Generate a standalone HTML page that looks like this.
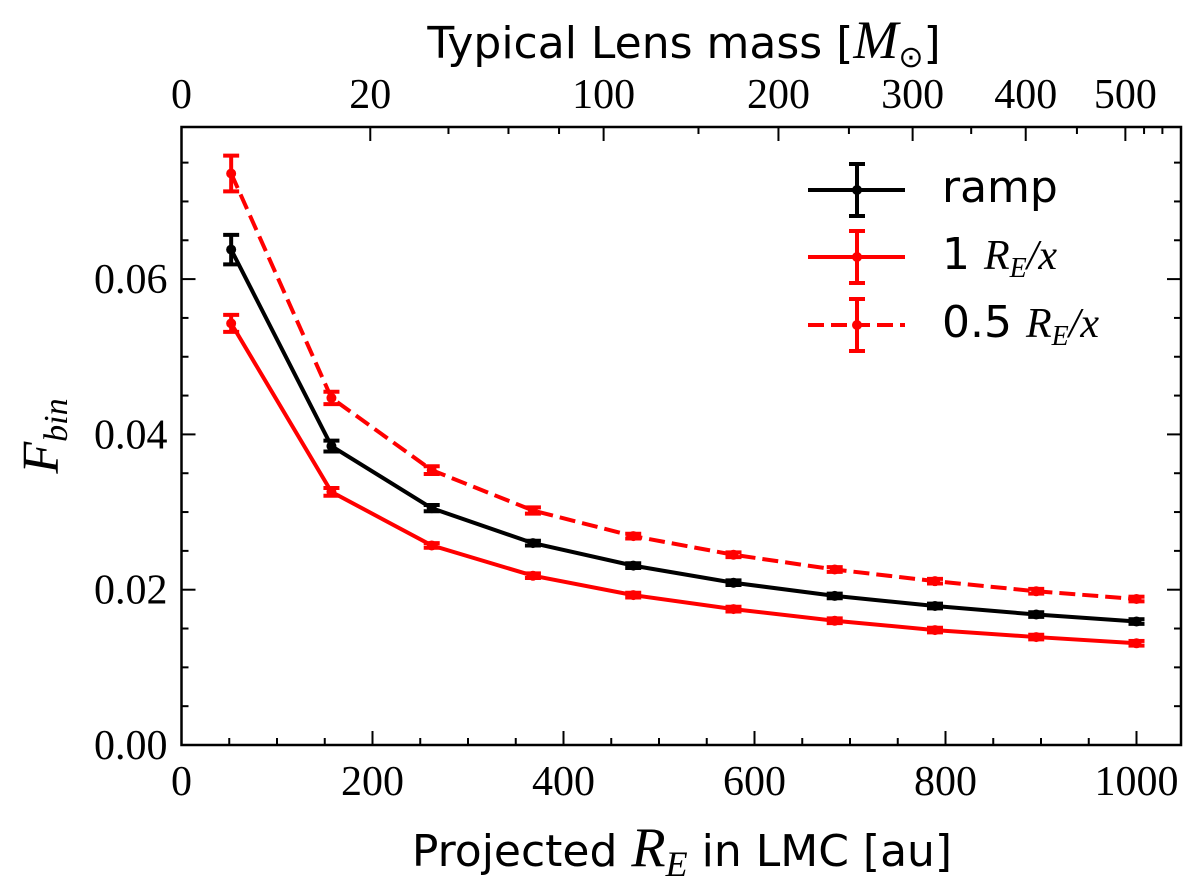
<!DOCTYPE html>
<html><head><meta charset="utf-8"><style>
html,body{margin:0;padding:0;background:#fff;}
svg text{fill:#000;}
.tk{font-family:"Liberation Serif",serif;font-size:42px;}
.lb{font-family:"DejaVu Sans","Liberation Sans",sans-serif;font-size:44px;}
.mi{font-family:"Liberation Serif",serif;font-style:italic;}
</style></head><body>
<svg id="chart" width="1200" height="890" xmlns="http://www.w3.org/2000/svg"></svg>
<script>
const xVals=[52,157,262,368,473,578,684,789,895,1000];
const rampVals=[0.0638,0.0385,0.0305,0.0260,0.0231,0.0209,0.0192,0.0179,0.0168,0.0159];
const rampErr=[0.0019,0.0007,0.0004,0.0003,0.0003,0.0003,0.0003,0.0003,0.0003,0.0003];
const oneVals=[0.0543,0.0326,0.0257,0.0218,0.0193,0.0175,0.0160,0.0148,0.0139,0.0131];
const oneErr=[0.0011,0.0005,0.0003,0.0003,0.0003,0.0003,0.0003,0.0003,0.0003,0.0003];
const halfVals=[0.0736,0.0447,0.0354,0.0302,0.0269,0.0245,0.0226,0.0211,0.0198,0.0188];
const halfErr=[0.0023,0.0008,0.0005,0.0004,0.0003,0.0003,0.0003,0.0003,0.0003,0.0003];
const xTicks=[0,200,400,600,800,1000];
const yTicks=[0,0.02,0.04,0.06];
const yTickLabels=["0.00","0.02","0.04","0.06"];
const topTicks=[0,20,100,200,300,400,500];
const topMinor=[40,60,80,150,250,350,450,520,540];

const L=181.5,R=1181,T=127,B=745;
const XMAX=(R-L)/0.955, YMAX=(B-T)/7765;
const sx=v=>L+v/XMAX*(R-L);
const sy=v=>B-v/YMAX*(B-T);
const sm=m=>sx(44.2*Math.sqrt(m));
const svg=document.getElementById('chart');
const NS='http://www.w3.org/2000/svg';
function mk(tag,attrs,parent){const e=document.createElementNS(NS,tag);for(const k in attrs)e.setAttribute(k,attrs[k]);(parent||svg).appendChild(e);return e;}

const tg=mk('g',{stroke:'#000','stroke-width':2});


for(let v=0;v<=XMAX;v+=50){const big=v%200===0;const x=sx(v);
 mk('line',{x1:x,x2:x,y1:B,y2:B-(big?14:7)},tg);}
for(let v=0;v<=YMAX+1e-9;v+=0.005){const big=Math.abs(v/0.02-Math.round(v/0.02))<1e-6;const y=sy(v);
 mk('line',{x1:L,x2:L+(big?14:7),y1:y,y2:y},tg);mk('line',{x1:R,x2:R-(big?14:7),y1:y,y2:y},tg);}
topTicks.forEach(m=>{const x=sm(m);mk('line',{x1:x,x2:x,y1:T,y2:T+14},tg);});
topMinor.forEach(m=>{const x=sm(m);mk('line',{x1:x,x2:x,y1:T,y2:T+7},tg);});

xTicks.forEach(v=>{const t=mk('text',{x:sx(v),y:B+50,'text-anchor':'middle',class:'tk'});t.textContent=v;
 });
yTicks.forEach((v,i)=>{const t=mk('text',{x:L-14,y:sy(v)+14,'text-anchor':'end',class:'tk'});t.textContent=yTickLabels[i];
 });
topTicks.forEach(m=>{const t=mk('text',{x:sm(m),y:108,'text-anchor':'middle',class:'tk'});t.textContent=m;
 });

function series(vals,errs,color,dash,name){
 const g=mk('g',{});
 const pts=xVals.map((x,i)=>sx(x)+','+sy(vals[i])).join(' ');
 mk('polyline',{points:pts,fill:'none',stroke:color,'stroke-width':4,'stroke-dasharray':dash||'none'},g);
 xVals.forEach((x,i)=>{const cx=sx(x),y1=sy(vals[i]-errs[i]),y2=sy(vals[i]+errs[i]);
  mk('line',{x1:cx,x2:cx,y1:y1,y2:y2,stroke:color,'stroke-width':4},g);
  mk('line',{x1:cx-8,x2:cx+8,y1:y1,y2:y1,stroke:color,'stroke-width':4},g);
  mk('line',{x1:cx-8,x2:cx+8,y1:y2,y2:y2,stroke:color,'stroke-width':4},g);
  mk('circle',{cx:cx,cy:sy(vals[i]),r:5,fill:color},g);});
}
series(halfVals,halfErr,'#ff0000','16,7','series-half-re');
series(oneVals,oneErr,'#ff0000',null,'series-one-re');
series(rampVals,rampErr,'#000000',null,'series-ramp');

mk('rect',{x:L,y:T,width:R-L,height:B-T,fill:'none',stroke:'#000','stroke-width':2.5});

const leg=[['#000',null,'ramp',190],['#ff0000',null,'1',257],['#ff0000','16,7','0.5',325]];
leg.forEach((d,i)=>{const g=mk('g',{});
 const y=d[3];mk('line',{x1:808,x2:905,y1:y,y2:y,stroke:d[0],'stroke-width':4,'stroke-dasharray':d[1]||'none'},g);
 mk('line',{x1:857,x2:857,y1:y-26,y2:y+26,stroke:d[0],'stroke-width':4},g);
 mk('line',{x1:849,x2:865,y1:y-26,y2:y-26,stroke:d[0],'stroke-width':4},g);
 mk('line',{x1:849,x2:865,y1:y+26,y2:y+26,stroke:d[0],'stroke-width':4},g);
 mk('circle',{cx:857,cy:y,r:5,fill:d[0]},g);
 const t=mk('text',{x:942,y:y+12,class:'lb','font-size':'34'},g);
 if(i===0)t.textContent='ramp';
 else t.innerHTML=d[2]+' <tspan class="mi" font-size="42">R</tspan><tspan class="mi" font-size="28" dy="8">E</tspan><tspan class="mi" font-size="42" dy="-8">/x</tspan>';
});
</script>
<svg style="position:absolute;left:0;top:0" width="1200" height="890" xmlns="http://www.w3.org/2000/svg">
<text x="682" y="866" text-anchor="middle" class="lb" font-size="52">Projected <tspan class="mi" font-size="56">R</tspan><tspan class="mi" font-size="36" dy="10">E</tspan><tspan dy="-10"> in LMC [au]</tspan></text>
<text x="684" y="58" text-anchor="middle" class="lb" font-size="50">Typical Lens mass [<tspan class="mi" font-size="54">M</tspan><tspan font-size="30" dy="9">⊙</tspan><tspan dy="-9">]</tspan></text>
<text transform="translate(58,436) rotate(-90)" text-anchor="middle" class="mi" font-size="52">F<tspan font-size="34" dy="9">bin</tspan></text>
</svg>
</body></html>
